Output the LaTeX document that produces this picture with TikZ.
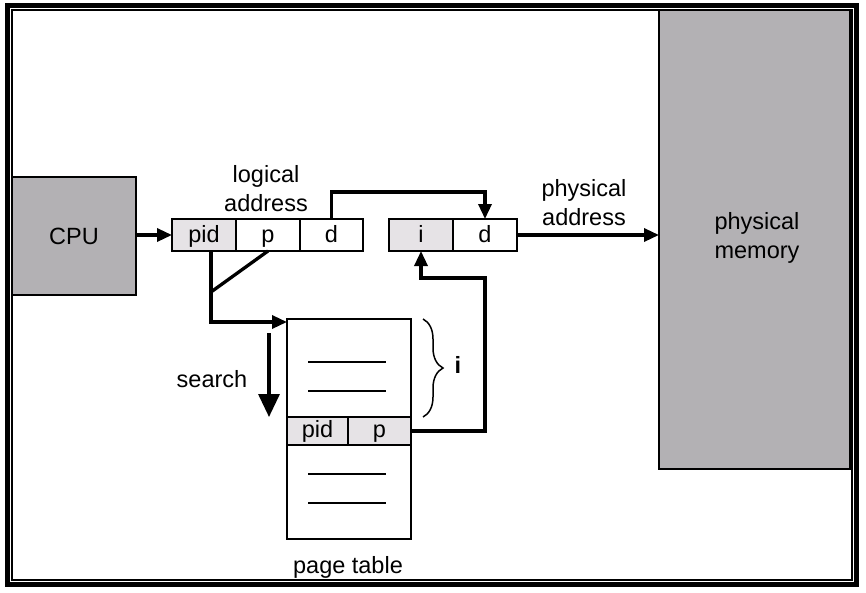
\documentclass[tikz,border=0pt]{standalone}
\usepackage{fontspec}
\setmainfont{Liberation Sans}
\usetikzlibrary{arrows.meta,decorations.pathreplacing}
\definecolor{boxgray}{RGB}{179,177,180}
\definecolor{cellgray}{RGB}{230,227,230}
\begin{document}
\begin{tikzpicture}[x=1pt,y=-1pt,
  every node/.style={font=\fontsize{23.5}{29}\selectfont},
  box/.style={draw, line width=2pt, inner sep=0pt, outer sep=0pt},
  cell/.style={box, minimum height=32pt, text height=17pt, text depth=3pt},
  conn/.style={line width=3.3pt, -{Triangle[length=15pt,width=13pt]}},
  plain/.style={line width=3.3pt},
  lbl/.style={align=center, inner sep=0pt, text depth=0pt, anchor=south},
  tline/.style={line width=1.5pt}]
\useasboundingbox (0,0) rectangle (866,592);
% frame
\draw[line width=5pt] (7.5,5.5) rectangle (856.5,584.5);
\draw[line width=1.4pt] (12,10) rectangle (852,580);
% big boxes
\node[box, fill=boxgray, minimum width=124pt, minimum height=118pt] (cpu) at (74,236) {CPU};
\node[box, fill=boxgray, minimum width=191pt, minimum height=459pt] (mem) at (754.5,239.5) {};
\node[lbl] (memlbl) at (757,259) {physical\\memory};
% logical address
\node[cell, fill=cellgray, minimum width=64pt] (pidL) at (204,235) {pid};
\node[cell, minimum width=64pt] (pL) at (268,235) {p};
\node[cell, minimum width=63pt] (dL) at (331.5,235) {d};
\node[lbl] (lalbl) at (266,212) {logical\\address};
% physical address
\node[cell, fill=cellgray, minimum width=64pt] (iP) at (421,235) {i};
\node[cell, minimum width=64pt] (dP) at (485,235) {d};
\node[lbl] (palbl) at (584,226) {physical\\address};
% page table
\node[box, minimum width=124pt, minimum height=220pt] (pt) at (349,429) {};
\node[cell, fill=cellgray, minimum width=61pt, minimum height=28pt, text depth=4pt] (pidT) at (317.5,431) {pid};
\node[cell, fill=cellgray, minimum width=63pt, minimum height=28pt, text depth=4pt] (pT) at (379.5,431) {p};
\draw[tline] (308,362) -- (386,362);
\draw[tline] (308,391) -- (386,391);
\draw[tline] (308,474) -- (386,474);
\draw[tline] (308,503) -- (386,503);
\node[anchor=base, inner sep=0pt] (ptlbl) at (348,573) {page table};
% brace
\coordinate (b1) at (423,319);
\coordinate (b2) at (423,417);
\draw[line width=1.5pt, decorate, decoration={brace, amplitude=20pt}] (b1) -- (b2);
\node[anchor=base, inner sep=0pt, font=\fontsize{23.5}{29}\selectfont\bfseries] (ilbl) at (458,373) {i};
% search
\coordinate (s1) at (269,333);
\coordinate (s2) at (269,417);
\draw[line width=3.3pt, -{Triangle[length=23pt,width=21pt]}] (s1) -- (s2);
\node[anchor=base, inner sep=0pt] (slbl) at (212,387) {search};
% connectors
\draw[conn] (cpu.east |- pidL.west) -- (pidL.west);
\draw[conn] (dL.north) -- ++(0,-27) -| (dP.north);
\draw[conn] (dP.east) -- (dP.east -| mem.west);
\coordinate (ptin) at ([yshift=-3pt]pt.north west);
\coordinate (j) at (211,292);
\draw[conn] ([xshift=7pt]pidL.south) |- (ptin);
\draw[plain] (pL.south) -- (j);
\coordinate (r1) at (485,278);
\draw[conn] (pT.east) -| (r1) -| (iP.south);
\end{tikzpicture}
\end{document}
